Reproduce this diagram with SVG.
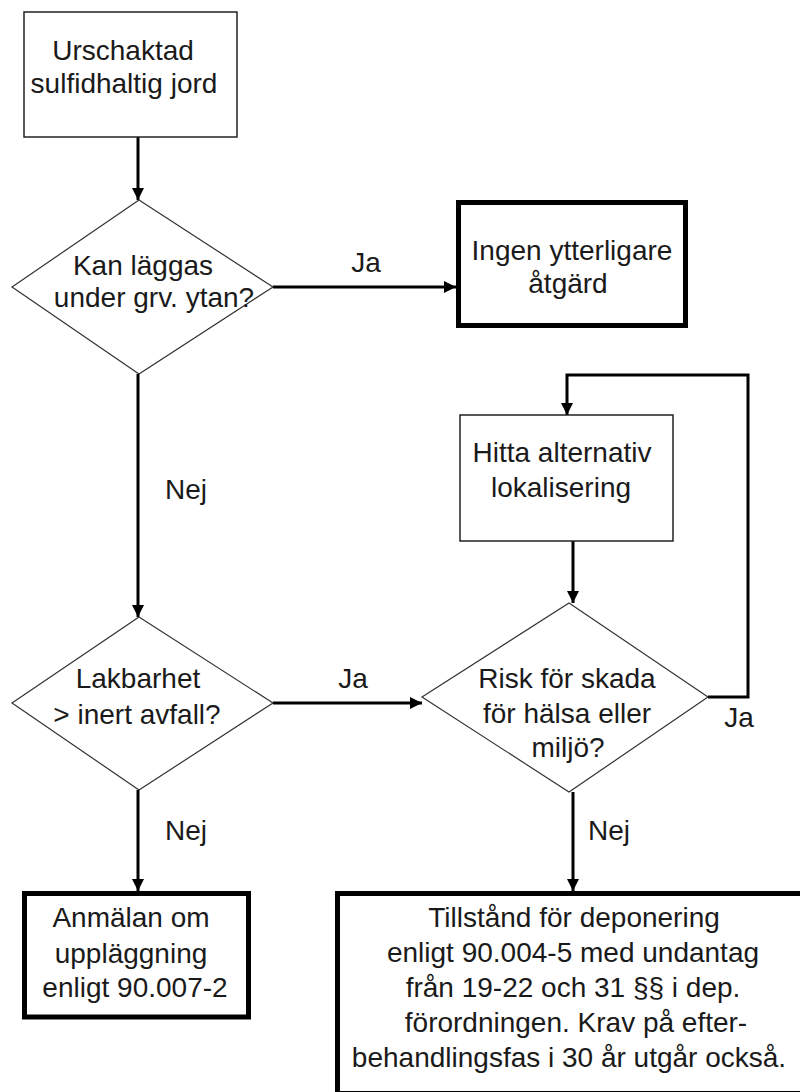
<svg xmlns="http://www.w3.org/2000/svg" width="800" height="1092" viewBox="0 0 800 1092">
<defs>
<marker id="arr" viewBox="0 0 10 10" refX="10" refY="5" markerWidth="12" markerHeight="12" markerUnits="userSpaceOnUse" orient="auto">
<path d="M0,0 L10,5 L0,10 z" fill="#000"/>
</marker>
<style>
text{font-family:"Liberation Sans",Arial,sans-serif;font-size:28px;fill:#1a1a1a;text-anchor:middle}
.thin{fill:#fff;stroke:#222;stroke-width:1.5}
.thick{fill:#fff;stroke:#000;stroke-width:5}
.dia{fill:#fff;stroke:#333;stroke-width:1.2}
.conn{fill:none;stroke:#000;stroke-width:3}
</style>
</defs>
<rect width="800" height="1092" fill="#fff"/>

<g id="connectors">
<line class="conn" x1="138" y1="137" x2="138" y2="200" marker-end="url(#arr)"/>
<line class="conn" x1="273" y1="287" x2="456" y2="287" marker-end="url(#arr)"/>
<line class="conn" x1="138" y1="374" x2="138" y2="617" marker-end="url(#arr)"/>
<line class="conn" x1="273" y1="703" x2="422" y2="703" marker-end="url(#arr)"/>
<line class="conn" x1="138" y1="790" x2="138" y2="891" marker-end="url(#arr)"/>
<line class="conn" x1="573" y1="541" x2="573" y2="603" marker-end="url(#arr)"/>
<polyline class="conn" points="708,697 748,697 748,375 567,375 567,415" marker-end="url(#arr)"/>
<line class="conn" x1="573" y1="792" x2="573" y2="891" marker-end="url(#arr)"/>
<text x="366" y="272">Ja</text>
<text x="186" y="499">Nej</text>
<text x="353" y="688">Ja</text>
<text x="739" y="727">Ja</text>
<text x="186" y="840">Nej</text>
<text x="609" y="840">Nej</text>
</g>

<g id="start">
<rect class="thin" x="24" y="12" width="213" height="125"/>
<text x="123" y="60">Urschaktad</text>
<text x="124" y="93">sulfidhaltig jord</text>
</g>

<g id="decision1">
<polygon class="dia" points="139,200 273,287 139,374 12,287"/>
<text x="143" y="275">Kan läggas</text>
<text x="154" y="307">under grv. ytan?</text>
</g>

<g id="noaction">
<rect class="thick" x="458.5" y="202.5" width="227" height="123"/>
<text x="572" y="260">Ingen ytterligare</text>
<text x="568" y="293">åtgärd</text>
</g>

<g id="findalt">
<rect class="thin" x="460" y="415" width="213" height="126"/>
<text x="562" y="462">Hitta alternativ</text>
<text x="561" y="497">lokalisering</text>
</g>

<g id="decision2">
<polygon class="dia" points="139,617 273,703 139,790 12,703"/>
<text x="138" y="688">Lakbarhet</text>
<text x="137" y="724">&gt; inert avfall?</text>
</g>

<g id="decision3">
<polygon class="dia" points="569,603 708,697 569,792 422,697"/>
<text x="567" y="688">Risk för skada</text>
<text x="567" y="723">för hälsa eller</text>
<text x="568" y="757">miljö?</text>
</g>

<g id="notify">
<rect class="thick" x="24.5" y="893.5" width="224" height="123.5"/>
<text x="131" y="927">Anmälan om</text>
<text x="131" y="963">uppläggning</text>
<text x="135" y="997">enligt 90.007-2</text>
</g>

<g id="permit">
<rect class="thick" x="337.5" y="893.5" width="480" height="200"/>
<text x="574" y="927">Tillstånd för deponering</text>
<text x="573" y="962">enligt 90.004-5 med undantag</text>
<text x="573" y="997">från 19-22 och 31 §§ i dep.</text>
<text x="576" y="1032">förordningen. Krav på efter-</text>
<text x="569" y="1067">behandlingsfas i 30 år utgår också.</text>
</g>
</svg>
